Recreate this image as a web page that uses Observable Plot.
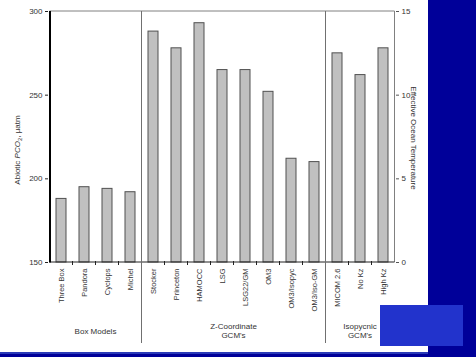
<!DOCTYPE html>
<html>
<head>
<meta charset="utf-8">
<script src="https://cdn.jsdelivr.net/npm/d3@7"></script>
<script src="https://cdn.jsdelivr.net/npm/@observablehq/plot@0.6"></script>
<style>
  html, body { margin: 0; padding: 0; }
  body { width: 476px; height: 357px; background: #000099; position: relative; overflow: hidden; font-family: "Liberation Sans", Arial, sans-serif; }
  #page { position: absolute; left: 0; top: 0; width: 428px; height: 352px; background: #ffffff; }
  #edge { position: absolute; left: 0; top: 352px; width: 428px; height: 2px; background: #2a3ab8; }
  #box { position: absolute; left: 380px; top: 305px; width: 83px; height: 41px; background: #2233cc; }
  #chart { position: absolute; left: 0; top: 0; }
</style>
</head>
<body>
<div id="page"></div>
<div id="edge"></div>
<div id="chart"></div>
<div id="box"></div>
<script>
const categories = ["Three Box","Pandora","Cyclops","Michel","Stocker","Princeton","HAMOCC","LSG","LSG22/GM","OM3","OM3/Isopyc","OM3/Iso-GM","MICOM 2.6","No Kz","High Kz"];
const pco2 = [188, 195, 194, 192, 288, 278, 293, 265, 265, 252, 212, 210, 275, 262, 278];
const groupNames = [["Box Models"], ["Z-Coordinate", "GCM's"], ["Isopycnic", "GCM's"]];
const groupSizes = [4, 8, 3];
const pco2Ticks = [150, 200, 250, 300];
const tempTicks = [0, 5, 10, 15];
const tempToPco2 = t => 150 + 10 * t;

const data = categories.map((name, i) => ({name, value: pco2[i]}));
const padInner = 0.57;

function decorations(index, scales, values, dims) {
  const sx = scales.x, sy = scales.y;
  const step = sx(categories[1]) - sx(categories[0]);
  let bw = typeof sx.bandwidth === "function" ? sx.bandwidth() : sx.bandwidth;
  if (bw == null || isNaN(bw)) bw = step * (1 - padInner);
  const c = i => sx(categories[i]) + bw / 2;
  const boundary = i => i < categories.length ? c(i) - step / 2 : c(categories.length - 1) + step / 2;
  const top = sy(pco2Ticks[pco2Ticks.length - 1]);
  const bottom = sy(pco2Ticks[0]);
  const left = boundary(0), right = boundary(categories.length);
  const g = d3.create("svg:g");
  // frame top + right (gray)
  g.append("path").attr("d", `M${left},${top}H${right}V${bottom}`).attr("fill", "none").attr("stroke", "#808080").attr("stroke-width", 1);
  // bottom axis line
  g.append("line").attr("x1", left).attr("x2", right).attr("y1", bottom).attr("y2", bottom).attr("stroke", "#222").attr("stroke-width", 1);
  // boundary ticks
  for (let i = 1; i < categories.length; i++) {
    const x = boundary(i);
    g.append("line").attr("x1", x).attr("x2", x).attr("y1", bottom - 1).attr("y2", bottom + 3).attr("stroke", "#222");
  }
  // group separators and labels
  let start = 0;
  groupSizes.forEach((n, gi) => {
    const end = start + n - 1;
    const cx = (c(start) + c(end)) / 2;
    const lines = groupNames[gi];
    const y0 = lines.length === 1 ? 334 : 329;
    lines.forEach((t, li) => {
      g.append("text").attr("x", cx).attr("y", y0 + li * 9).attr("text-anchor", "middle")
        .attr("font-size", 8).attr("fill", "#333").text(t);
    });
    if (gi < groupSizes.length - 1) {
      const x = boundary(end + 1);
      g.append("line").attr("x1", x).attr("x2", x).attr("y1", top).attr("y2", 343).attr("stroke", "#707070").attr("stroke-width", 1);
    }
    start = end + 1;
  });
  // thick left axis
  g.append("line").attr("x1", left + 0.5).attr("x2", left + 0.5).attr("y1", top).attr("y2", bottom + 0.5).attr("stroke", "#000").attr("stroke-width", 2);
  // y label left
  const yl = g.append("text").attr("transform", `translate(20,150) rotate(-90)`).attr("text-anchor", "middle")
    .attr("font-size", 8).attr("fill", "#333");
  yl.append("tspan").text("Abiotic ");
  yl.append("tspan").attr("font-style", "italic").text("PCO");
  yl.append("tspan").attr("font-size", 6).attr("dy", 2).text("2");
  yl.append("tspan").attr("dy", -2).text(", µatm");
  // right label
  g.append("text").attr("transform", `translate(${right + 16},138) rotate(90)`).attr("text-anchor", "middle")
    .attr("font-size", 8).attr("fill", "#333").text("Effective Ocean Temperature");
  return g.node();
}

const chart = Plot.plot({
  width: 428,
  height: 352,
  marginLeft: 48,
  marginRight: 33,
  marginTop: 11,
  marginBottom: 90,
  style: {fontFamily: "Liberation Sans, Arial, sans-serif", background: "transparent", color: "#333"},
  x: {domain: categories, paddingInner: padInner, paddingOuter: padInner / 2},
  y: {domain: [pco2Ticks[0], pco2Ticks[pco2Ticks.length - 1]]},
  marks: [
    Plot.barY(data, {x: "name", y1: pco2Ticks[0], y2: "value", fill: "#c0c0c0", stroke: "#505050", strokeWidth: 1}),
    Plot.axisY({anchor: "left", ticks: pco2Ticks, tickSize: 3, tickPadding: 3, fontSize: 8, label: null, stroke: "#222"}),
    Plot.axisY({anchor: "right", ticks: tempTicks.map(tempToPco2), tickFormat: (d, i) => tempTicks[i], tickSize: 3, tickPadding: 3, fontSize: 8, label: null, stroke: "#555"}),
    Plot.axisX({tickRotate: -90, tickSize: 0, tickPadding: 6, fontSize: 7.5, label: null}),
    decorations
  ]
});
document.getElementById("chart").appendChild(chart);
</script>
</body>
</html>
